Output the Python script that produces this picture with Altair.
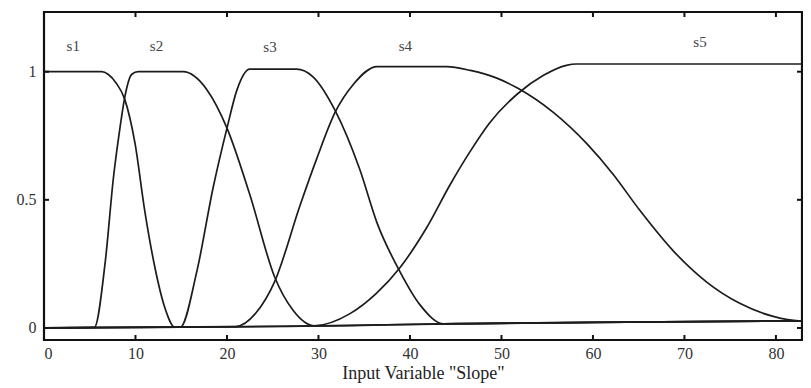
import altair as alt
import pandas as pd

# ---- data ----
s1_x = [0, 6.3, 7.0, 7.9, 8.8, 9.95, 11.0, 12.1, 13.2, 14.3, 30, 45, 60, 84]
s1_y = [1.0, 1.0, 0.99, 0.955, 0.895, 0.72, 0.46, 0.24, 0.08, 0.003, 0.008, 0.017, 0.022, 0.028]

s2_x = [0, 5.5, 6.7, 7.6, 8.3, 8.8, 9.6, 10.3, 15.2, 17.8, 20.0, 22.5, 25.2, 27.2, 29.6, 45, 60, 84]
s2_y = [0.0, 0.002, 0.26, 0.59, 0.78, 0.895, 0.99, 1.0, 1.0, 0.93, 0.78, 0.52, 0.20, 0.07, 0.008, 0.017,
        0.022, 0.028]

s3_x = [0, 14.9, 16.7, 18.5, 20.0, 21.1, 22.5, 27.6, 29.4, 31.8, 34.5, 36.4, 38.9, 41.1, 43.7, 60, 84]
s3_y = [0.0, 0.003, 0.22, 0.55, 0.78, 0.93, 1.01, 1.01, 0.98, 0.85, 0.62, 0.41, 0.22, 0.09, 0.016,
        0.022, 0.028]

s4_x = [0, 20.9, 23.2, 25.2, 28.0, 29.8, 31.8, 33.8, 36.4, 44.0, 46.6, 49.5, 51.8, 55.7, 59.3, 62.2, 65.1,
        68.8, 72.4, 76.1, 79.7, 82.5, 84]
s4_y = [0.0, 0.005, 0.06, 0.18, 0.48, 0.66, 0.84, 0.95, 1.02, 1.02, 1.005, 0.975, 0.935, 0.84, 0.72, 0.60, 0.46,
        0.30, 0.18, 0.095, 0.045, 0.028, 0.028]

s5_x = [0, 15, 29.5, 33.4, 36.3, 38.9, 41.8, 44.4, 46.6, 48.7, 51.8, 54.6, 57.1, 58.2, 84]
s5_y = [0.0, 0.003, 0.008, 0.055, 0.134, 0.235, 0.39, 0.56, 0.69, 0.80, 0.915, 0.986, 1.025, 1.03, 1.03]

names = ["s1", "s2", "s3", "s4", "s5"]
label_x = [3.2, 12.3, 24.7, 39.5, 71.7]
label_y = [1.10, 1.10, 1.095, 1.10, 1.115]

x_ticks = [0, 10, 20, 30, 40, 50, 60, 70, 80]
y_ticks = [0, 0.5, 1]

X_DOMAIN = [0, 82.85]
Y_DOMAIN = [-0.047, 1.233]
W, H = 758, 328

rows = []
for name, xs, ys in zip(names, [s1_x, s2_x, s3_x, s4_x, s5_x], [s1_y, s2_y, s3_y, s4_y, s5_y]):
    for i, (a, b) in enumerate(zip(xs, ys)):
        rows.append({"mf": name, "x": a, "y": b, "i": i})
curves = pd.DataFrame(rows)
labels = pd.DataFrame({"mf": names, "x": label_x, "y": label_y})
xt = pd.DataFrame({"x": x_ticks})
yt = pd.DataFrame({"y": y_ticks})

FONT = "Liberation Serif"
XTITLE = 'Input Variable "Slope"'
xscale = alt.Scale(domain=X_DOMAIN, nice=False, zero=False)
yscale = alt.Scale(domain=Y_DOMAIN, nice=False, zero=False)
xaxis = alt.Axis(values=x_ticks, format="d", grid=False, domain=False, ticks=False,
                 labelFont=FONT, labelFontSize=16, labelColor="#333333", labelPadding=5,
                 titleFont=FONT, titleFontSize=18, titleFontWeight="normal",
                 titleColor="#222222", titlePadding=3)
yaxis = alt.Axis(values=y_ticks, grid=False, domain=False, ticks=False,
                 labelFont=FONT, labelFontSize=16, labelColor="#333333", labelPadding=8,
                 labelExpr="datum.value == 0.5 ? '0.5' : format(datum.value, 'd')")


def X(field):
    return alt.X(field, scale=xscale, axis=xaxis, title=XTITLE)


def Y(field):
    return alt.Y(field, scale=yscale, axis=yaxis, title=None)


lines = alt.Chart(curves).mark_line(
    interpolate="monotone", color="#1c1c1c", strokeWidth=1.7, clip=True
).encode(
    x=X("x:Q"),
    y=Y("y:Q"),
    detail="mf:N",
    order="i:Q",
)

text = alt.Chart(labels).mark_text(
    font=FONT, fontSize=15, color="#444444", align="center", baseline="middle"
).encode(
    x=X("x:Q"),
    y=Y("y:Q"),
    text="mf:N",
)

TL = 5
tick_style = dict(color="#111111", strokeWidth=2)
bottom_ticks = alt.Chart(xt).mark_rule(**tick_style).encode(
    x=X("x:Q"), y=alt.value(H), y2=alt.value(H - TL))
top_ticks = alt.Chart(xt).mark_rule(**tick_style).encode(
    x=X("x:Q"), y=alt.value(0), y2=alt.value(TL))
left_ticks = alt.Chart(yt).mark_rule(**tick_style).encode(
    y=Y("y:Q"), x=alt.value(0), x2=alt.value(TL))
right_ticks = alt.Chart(yt).mark_rule(**tick_style).encode(
    y=Y("y:Q"), x=alt.value(W), x2=alt.value(W - TL))

chart = alt.layer(lines, text, bottom_ticks, top_ticks, left_ticks, right_ticks).properties(
    width=W, height=H,
    background="white",
    autosize=alt.AutoSizeParams(type="none"),
    padding={"left": 36, "top": 4, "right": 1, "bottom": 46},
).configure_view(
    stroke="#111111", strokeWidth=2.2
)

chart.save("out.html", embed_options={"renderer": "svg", "actions": False})
